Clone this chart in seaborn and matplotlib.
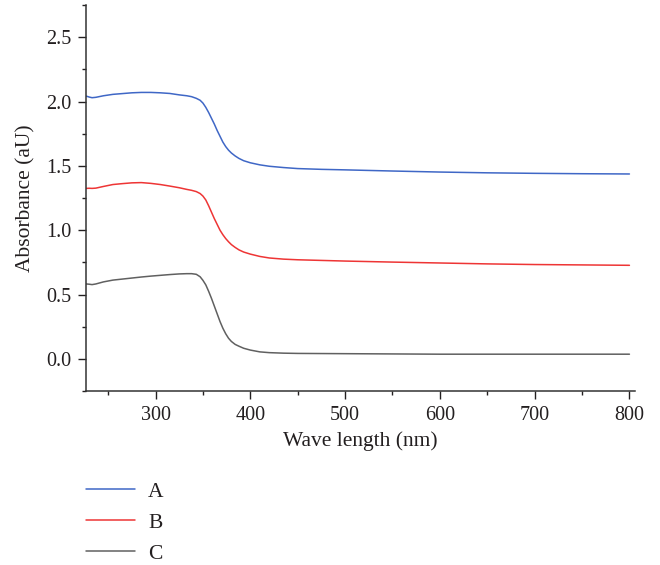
import numpy as np
import pandas as pd
import matplotlib
matplotlib.use("Agg")
import matplotlib.pyplot as plt
from matplotlib.ticker import MultipleLocator, FormatStrFormatter
import seaborn as sns

# Wavelength grid (nm) and absorbance of the three samples
wavelength = [227, 230, 233, 237, 245, 255, 265, 275, 285, 295, 305, 315, 325,
              333, 338, 343, 347, 350, 353, 356, 359, 362, 365, 368, 371, 374,
              377, 380, 384, 388, 393, 400, 410, 420, 435, 450, 475, 500, 550,
              600, 650, 700, 750, 800]

absorb_a = [2.042, 2.035, 2.030, 2.033, 2.045, 2.056, 2.062, 2.068, 2.071, 2.071,
            2.068, 2.063, 2.052, 2.045, 2.038, 2.025, 2.010, 1.988, 1.955, 1.915,
            1.870, 1.825, 1.775, 1.730, 1.685, 1.650, 1.622, 1.600, 1.577, 1.558,
            1.540, 1.524, 1.508, 1.497, 1.487, 1.479, 1.473, 1.469, 1.460, 1.452,
            1.446, 1.442, 1.439, 1.437]

absorb_b = [1.325, 1.326, 1.325, 1.327, 1.340, 1.355, 1.362, 1.368, 1.370, 1.364,
            1.355, 1.343, 1.330, 1.317, 1.310, 1.300, 1.285, 1.265, 1.235, 1.190,
            1.140, 1.090, 1.045, 1.000, 0.965, 0.935, 0.910, 0.888, 0.866, 0.847,
            0.830, 0.814, 0.796, 0.784, 0.775, 0.770, 0.765, 0.760, 0.752, 0.745,
            0.738, 0.733, 0.730, 0.727]

absorb_c = [0.582, 0.580, 0.577, 0.582, 0.598, 0.612, 0.620, 0.628, 0.636, 0.643,
            0.649, 0.655, 0.660, 0.662, 0.662, 0.657, 0.638, 0.610, 0.575, 0.525,
            0.470, 0.410, 0.350, 0.290, 0.238, 0.195, 0.160, 0.135, 0.112, 0.098,
            0.082, 0.068, 0.054, 0.048, 0.044, 0.042, 0.041, 0.040, 0.038, 0.036,
            0.036, 0.036, 0.036, 0.036]

samples = ["A", "B", "C"]
colors = {"A": "#3F67C6", "B": "#EE3535", "C": "#606060"}

df = pd.concat([
    pd.DataFrame({"wl": wavelength, "abs": vals, "sample": name})
    for name, vals in zip(samples, [absorb_a, absorb_b, absorb_c])
], ignore_index=True)

sns.set_theme(style="ticks")
plt.rcParams["font.family"] = ["Liberation Serif", "DejaVu Serif"]
for key in ["text.color", "axes.labelcolor", "xtick.color", "ytick.color"]:
    plt.rcParams[key] = "#231f20"

fig = plt.figure(figsize=(6.6, 5.65), dpi=100)
ax = fig.add_axes([0.1303, 0.308, 0.832, 0.683])

sns.lineplot(data=df, x="wl", y="abs", hue="sample", palette=colors,
             hue_order=samples, linewidth=1.1, ax=ax, estimator=None, sort=False)

ax.set_xlim(226.6, 806)
ax.set_ylim(-0.25, 2.75)
ax.xaxis.set_major_locator(MultipleLocator(100))
ax.xaxis.set_minor_locator(MultipleLocator(50))
ax.yaxis.set_major_locator(MultipleLocator(0.5))
ax.yaxis.set_minor_locator(MultipleLocator(0.25))
ax.yaxis.set_major_formatter(FormatStrFormatter("%.1f"))

for side in ["top", "right"]:
    ax.spines[side].set_visible(False)
for side in ["left", "bottom"]:
    ax.spines[side].set_linewidth(1.1)
    ax.spines[side].set_color("#333333")

ax.tick_params(which="major", direction="out", length=5.5, width=1.0,
               labelsize=14.5, pad=5)
ax.tick_params(which="minor", direction="out", length=2.8, width=1.0)

ax.set_xlabel("Wave length (nm)", fontsize=15.5, labelpad=5)
ax.set_ylabel("Absorbance (aU)", fontsize=15.5, labelpad=8)

handles, labels = ax.get_legend_handles_labels()
ax.get_legend().remove()
fig.legend(handles, labels, loc="upper left", bbox_to_anchor=(0.130, 0.147),
           frameon=False, fontsize=15.5, handlelength=2.3, handletextpad=0.6,
           labelspacing=0.5, borderpad=0, borderaxespad=0)

fig.savefig("out.png", dpi=100)
